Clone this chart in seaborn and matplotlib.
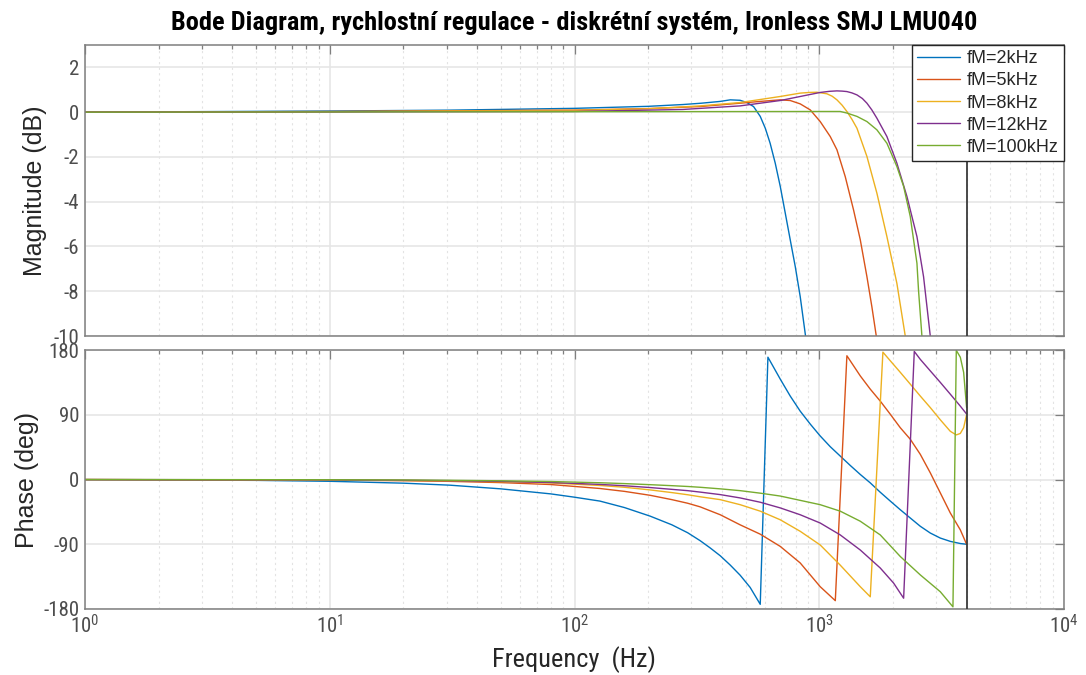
import numpy as np
import pandas as pd
import matplotlib
matplotlib.use("Agg")
import matplotlib.pyplot as plt
from matplotlib import font_manager
from matplotlib.ticker import FixedLocator, LogLocator, FuncFormatter, NullFormatter
import seaborn as sns

# ---------------------------------------------------------------- data
series_names = ["fM=2kHz", "fM=5kHz", "fM=8kHz", "fM=12kHz", "fM=100kHz"]
series_colors = ["#0072BD", "#D95319", "#EDB120", "#7E2F8E", "#77AC30"]

# magnitude (dB) vs frequency (Hz)
mag_f_2k = [1, 10, 31, 100, 200, 277, 330, 394, 433, 475, 506, 539, 574, 602, 630, 661, 693, 726, 761, 798, 836, 879, 950]
mag_2k = [0.0, 0.05, 0.09, 0.17, 0.26, 0.34, 0.40, 0.48, 0.55, 0.53, 0.43, 0.25, -0.19, -0.72, -1.39, -2.28, -3.32, -4.5,
          -5.7, -6.9, -8.24, -10.0, -12.0]

mag_f_5k = [1, 10, 31, 100, 200, 326, 475, 574, 693, 761, 836, 919, 1009, 1109, 1181, 1277, 1381, 1471, 1566, 1641, 1710, 1820]
mag_5k = [0.0, 0.03, 0.06, 0.09, 0.16, 0.25, 0.40, 0.48, 0.55, 0.52, 0.37, 0.10, -0.42, -1.09, -1.68, -2.88, -4.37, -5.7,
          -7.35, -8.7, -10.0, -12.5]

mag_f_8k = [1, 10, 31, 100, 200, 326, 475, 693, 836, 910, 978, 1075, 1130, 1181, 1240, 1297, 1360, 1426, 1566, 1720, 1890,
            2076, 2246, 2393]
mag_8k = [0.0, 0.02, 0.05, 0.08, 0.15, 0.28, 0.43, 0.70, 0.85, 0.88, 0.89, 0.82, 0.71, 0.55, 0.31, 0.03, -0.32, -0.72,
          -1.98, -3.62, -5.56, -7.65, -10.0, -12.0]

mag_f_12k = [1, 10, 31, 100, 277, 475, 693, 836, 1009, 1100, 1181, 1240, 1297, 1360, 1426, 1500, 1566, 1640, 1720, 1890, 2076,
             2282, 2507, 2668, 2842, 2931]
mag_12k = [0.0, 0.01, 0.02, 0.03, 0.12, 0.28, 0.52, 0.70, 0.88, 0.93, 0.95, 0.94, 0.92, 0.86, 0.77, 0.61, 0.40, 0.10, -0.27,
           -1.09, -2.28, -3.77, -5.56, -7.35, -10.0, -11.3]

mag_f_100k = [1, 100, 1000, 1218, 1297, 1426, 1566, 1720, 1890, 2076, 2212, 2354, 2507, 2546, 2627, 2680]
mag_100k = [0.0, 0.02, 0.03, 0.03, -0.04, -0.19, -0.42, -0.79, -1.39, -2.43, -3.32, -4.66, -6.75, -8.0, -10.0, -12.0]

# phase (deg) vs frequency (Hz), wrapped to [-180, 180]
ph_f_2k = [1, 5, 10, 20, 31, 50, 80, 100, 127, 160, 204, 250, 290, 326, 358, 394, 433, 475, 522, 574, 617, 693, 761, 836,
           919, 1009, 1109, 1218, 1339, 1471, 1616, 1775, 1951, 2143, 2354, 2587, 2842, 3123, 3431, 3770, 4000]
ph_2k = [-0.3, -1.2, -2.5, -5.1, -7.9, -13, -20, -24.6, -30, -39, -51, -63, -74, -85, -95, -106, -119, -133, -150, -173.5,
         170, 139.5, 116, 95, 77, 60.5, 45.6, 32.6, 19.5, 7, -4.7, -17.7, -30, -42, -53.5, -65, -74.4, -81.4, -86, -89, -90]

ph_f_5k = [1, 10, 20, 31, 50, 80, 127, 160, 204, 250, 290, 326, 394, 475, 574, 693, 836, 1009, 1163, 1297, 1471, 1616, 1775,
           1951, 2143, 2354, 2587, 2842, 3123, 3431, 3770, 4000]
ph_5k = [-0.1, -0.8, -1.7, -2.6, -4.3, -7, -12.5, -16.5, -22, -28, -33, -38, -49, -63, -76, -93, -116, -149, -168.4, 172,
         144, 125.6, 109, 90.7, 72, 56, 35, 9.3, -18.6, -46.5, -70, -90]

ph_f_8k = [1, 10, 20, 31, 50, 80, 127, 160, 204, 250, 290, 326, 394, 475, 574, 693, 836, 1009, 1218, 1471, 1616, 1820, 1951,
           2143, 2354, 2587, 2842, 3123, 3431, 3630, 3770, 3890, 4000]
ph_8k = [-0.1, -0.6, -1.2, -1.9, -3.0, -4.8, -8.3, -10.8, -14.5, -18.2, -21.2, -24, -28, -35, -44, -56, -72, -91, -119, -149,
         -163, 177, 165, 149, 132.6, 116, 100, 83, 67, 62, 64, 72, 90]

ph_f_12k = [1, 10, 20, 31, 50, 80, 127, 160, 204, 250, 290, 326, 394, 475, 574, 693, 836, 1009, 1218, 1471, 1775, 2013, 2212,
            2445, 2587, 2842, 3123, 3431, 3770, 4000]
ph_12k = [-0.05, -0.5, -1.0, -1.6, -2.6, -4.2, -6.8, -8.7, -11.2, -13.7, -15.5, -17.5, -21, -25.6, -31.6, -39.5, -49, -60.5,
          -77, -98, -123, -144, -165, 178, 167, 151, 135, 118.6, 102, 91]

ph_f_100k = [1, 10, 20, 31, 50, 80, 127, 160, 204, 250, 290, 326, 394, 475, 574, 693, 836, 1009, 1218, 1471, 1775, 2143, 2587,
             3123, 3518, 3630, 3770, 3890, 4000]
ph_100k = [0.0, -0.35, -0.7, -1.1, -1.8, -2.8, -4.5, -5.7, -7.2, -8.6, -9.7, -10.8, -13, -15.5, -19, -23, -29, -35, -44, -58,
           -77, -107, -132.6, -156, -177, 179.5, 170, 149, 100]

nyquist_hz = 4000

mag_sets = [(mag_f_2k, mag_2k), (mag_f_5k, mag_5k), (mag_f_8k, mag_8k), (mag_f_12k, mag_12k), (mag_f_100k, mag_100k)]
ph_sets = [(ph_f_2k, ph_2k), (ph_f_5k, ph_5k), (ph_f_8k, ph_8k), (ph_f_12k, ph_12k), (ph_f_100k, ph_100k)]

mag_df = pd.concat([pd.DataFrame({"freq": f, "val": v, "series": n})
                    for n, (f, v) in zip(series_names, mag_sets)], ignore_index=True)
ph_df = pd.concat([pd.DataFrame({"freq": f, "val": v, "series": n})
                   for n, (f, v) in zip(series_names, ph_sets)], ignore_index=True)

# ---------------------------------------------------------------- fonts
sns.set_style("white")
fonts = font_manager.fontManager.ttflist
names = {f.name for f in fonts}
narrow_family, narrow_stretch = None, "normal"
for cand in ["Liberation Sans Narrow", "Arial Narrow", "Roboto Condensed", "Open Sans Condensed"]:
    if cand in names:
        narrow_family = cand
        break
if narrow_family is None:
    for fam in ["Roboto", "Noto Sans", "Open Sans", "DejaVu Sans"]:
        if any(f.name == fam and f.stretch in ("condensed", "semi-condensed") for f in fonts):
            narrow_family, narrow_stretch = fam, "condensed"
            break
if narrow_family is None:
    narrow_family = "Liberation Sans"
    sizes = dict(title=16.3, xlabel=16.5, ticks=14.5)
else:
    sizes = dict(title=19, xlabel=19, ticks=15)

plt.rcParams["font.family"] = [narrow_family, "DejaVu Sans"]
plt.rcParams["font.stretch"] = narrow_stretch
plt.rcParams["mathtext.fontset"] = "custom"
plt.rcParams["mathtext.rm"] = narrow_family
plt.rcParams["mathtext.default"] = "regular"
plt.rcParams["axes.unicode_minus"] = False

axis_gray = "#7f7f7f"
tick_gray = "#4d4d4d"
label_col = "#262626"
plain_font = ["Liberation Sans", "DejaVu Sans"]

# ---------------------------------------------------------------- figure
fig = plt.figure(figsize=(10.86, 6.75), dpi=100)
W, H = 1086, 675
x0, x1 = 85, 1064
ax_mag = fig.add_axes([x0 / W, 1 - 336 / H, (x1 - x0) / W, (336 - 45) / H])
ax_ph = fig.add_axes([x0 / W, 1 - 609 / H, (x1 - x0) / W, (609 - 350) / H])

palette = dict(zip(series_names, series_colors))
sns.lineplot(data=mag_df, x="freq", y="val", hue="series", hue_order=series_names, palette=palette,
             estimator=None, sort=False, linewidth=1.0, ax=ax_mag)
sns.lineplot(data=ph_df, x="freq", y="val", hue="series", hue_order=series_names, palette=palette,
             estimator=None, sort=False, linewidth=1.0, legend=False, ax=ax_ph)

for ax in (ax_mag, ax_ph):
    ax.set_xscale("log")
    ax.set_xlim(1, 1e4)
    ax.axvline(nyquist_hz, color="#3a3a3a", linewidth=1.3, zorder=5)
    ax.xaxis.set_major_locator(FixedLocator([1, 10, 100, 1000, 10000]))
    ax.xaxis.set_minor_locator(LogLocator(base=10, subs=np.arange(2, 10)))
    ax.xaxis.set_minor_formatter(NullFormatter())
    ax.grid(True, which="major", color="#e6e6e6", linewidth=1.2, linestyle="-")
    ax.grid(True, which="minor", axis="x", color="#e3e3e3", linewidth=0.8, linestyle=(0, (2, 3)))
    ax.set_axisbelow(True)
    for sp in ax.spines.values():
        sp.set_color(axis_gray)
        sp.set_linewidth(1.1)
    ax.tick_params(which="both", direction="in", top=True, right=True, color=axis_gray,
                   labelcolor=tick_gray, labelsize=sizes["ticks"], width=0.9)
    ax.tick_params(which="major", length=6.5, pad=4)
    ax.tick_params(which="minor", length=3.2)

ax_mag.set_ylim(-10, 3)
ax_mag.set_yticks([-10, -8, -6, -4, -2, 0, 2])
ax_mag.xaxis.set_major_formatter(NullFormatter())
ax_mag.set_xlabel("")

ax_ph.set_ylim(-180, 180)
ax_ph.set_yticks([-180, -90, 0, 90, 180])
ax_ph.xaxis.set_major_formatter(FuncFormatter(lambda v, p: r"$10^{%d}$" % round(np.log10(v))))

ylab_font = dict(family=plain_font, stretch="normal", size=18, color=label_col)
ax_mag.set_ylabel("Magnitude (dB)", labelpad=5, **ylab_font)
ax_ph.set_ylabel("Phase (deg)", labelpad=3, **ylab_font)
ax_ph.set_xlabel("Frequency  (Hz)", fontsize=sizes["xlabel"], color=label_col, labelpad=6)

ax_mag.set_title("Bode Diagram, rychlostní regulace - diskrétní systém, Ironless SMJ LMU040",
                 fontsize=sizes["title"], fontweight="bold", color="black", pad=11)

handles, labels = ax_mag.get_legend_handles_labels()
leg = ax_mag.legend(handles, labels, loc="upper right", bbox_to_anchor=(1.0, 1.0),
                    prop=dict(family=plain_font, stretch="normal", size=13),
                    frameon=True, fancybox=False, framealpha=1, edgecolor=label_col,
                    borderpad=0.3, labelspacing=0.28, handlelength=2.4, handletextpad=0.35,
                    borderaxespad=0.0)
leg.get_frame().set_linewidth(1.0)
for t in leg.get_texts():
    t.set_color(label_col)

fig.savefig("out.png", dpi=100)
